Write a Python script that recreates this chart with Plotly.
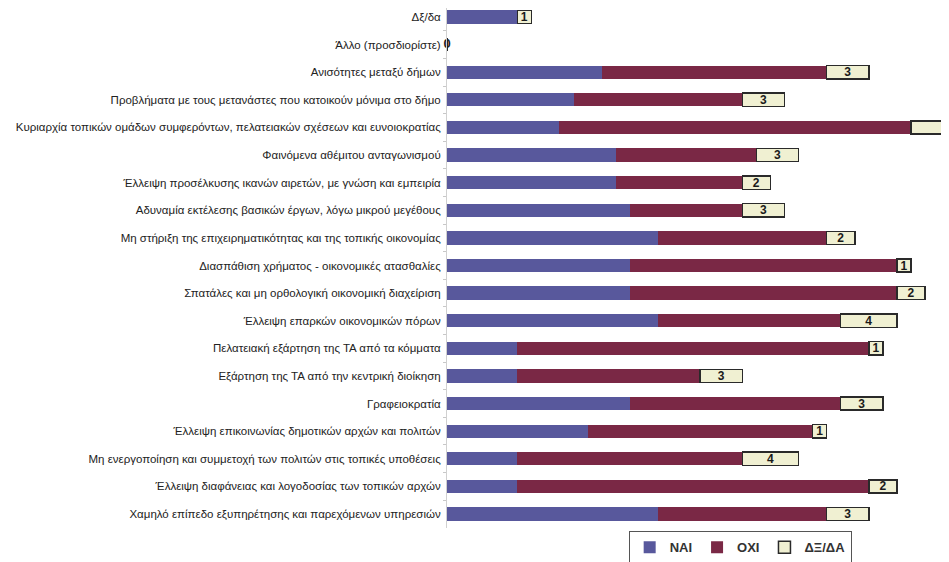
import plotly.graph_objects as go

categories = [
    "Δξ/δα",
    "Άλλο (προσδιορίστε)",
    "Ανισότητες μεταξύ δήμων",
    "Προβλήματα με τους μετανάστες που κατοικούν μόνιμα στο δήμο",
    "Κυριαρχία τοπικών ομάδων συμφερόντων, πελατειακών σχέσεων και ευνοιοκρατίας",
    "Φαινόμενα αθέμιτου ανταγωνισμού",
    "Έλλειψη προσέλκυσης ικανών αιρετών, με γνώση και εμπειρία",
    "Αδυναμία εκτέλεσης βασικών έργων, λόγω μικρού μεγέθους",
    "Μη στήριξη της επιχειρηματικότητας και της τοπικής οικονομίας",
    "Διασπάθιση χρήματος - οικονομικές ατασθαλίες",
    "Σπατάλες και μη ορθολογική οικονομική διαχείριση",
    "Έλλειψη επαρκών οικονομικών πόρων",
    "Πελατειακή εξάρτηση της ΤΑ από τα κόμματα",
    "Εξάρτηση της ΤΑ από την κεντρική διοίκηση",
    "Γραφειοκρατία",
    "Έλλειψη επικοινωνίας δημοτικών αρχών και πολιτών",
    "Μη ενεργοποίηση και συμμετοχή των πολιτών στις τοπικές υποθέσεις",
    "Έλλειψη διαφάνειας και λογοδοσίας των τοπικών αρχών",
    "Χαμηλό επίπεδο εξυπηρέτησης και παρεχόμενων υπηρεσιών",
]
nai = [5, 0, 11, 9, 8, 12, 12, 13, 15, 13, 13, 15, 5, 5, 13, 10, 5, 5, 15]
oxi = [0, 0, 16, 12, 25, 10, 9, 8, 12, 19, 19, 13, 25, 13, 15, 16, 16, 25, 12]
dxda = [1, 0, 3, 3, 3, 3, 2, 3, 2, 1, 2, 4, 1, 3, 3, 1, 4, 2, 3]

series_names = ["ΝΑΙ", "ΟΧΙ", "ΔΞ/ΔΑ"]
colors = ["#58589c", "#7a2845", "#f0f0d2"]

fig = go.Figure()
fig.add_trace(go.Bar(
    y=categories, x=nai, orientation="h", name=series_names[0],
    marker=dict(color=colors[0], line=dict(color=colors[0], width=0)),
))
fig.add_trace(go.Bar(
    y=categories, x=oxi, orientation="h", name=series_names[1],
    marker=dict(color=colors[1], line=dict(color=colors[1], width=0)),
))
fig.add_trace(go.Bar(
    y=categories, x=dxda, orientation="h", name=series_names[2],
    marker=dict(color=colors[2], line=dict(color="#2a2a2a", width=1.5)),
    text=[str(v) if v else "" for v in dxda], textposition="inside",
    insidetextanchor="middle", textangle=0, constraintext="none",
    textfont=dict(color="#1a1a1a", size=12, family="Liberation Sans", weight="bold"),
))
# zero label for the empty category
zero_cats = [c for c, a, b, d in zip(categories, nai, oxi, dxda) if a + b + d == 0]
fig.add_trace(go.Scatter(
    y=zero_cats, x=[0] * len(zero_cats), mode="text", text=["0"] * len(zero_cats),
    textposition="middle center", showlegend=False, cliponaxis=False,
    textfont=dict(color="#222222", size=13, family="Liberation Sans", weight="bold"),
))

fig.update_layout(
    barmode="stack",
    bargap=0.52,
    width=941, height=554,
    margin=dict(l=439, r=0, t=0, b=34, autoexpand=False),
    paper_bgcolor="white", plot_bgcolor="white",
    font=dict(family="Liberation Sans", color="#222222", size=11.5),
    legend=dict(
        orientation="h", x=0.584, y=-0.037, xanchor="center", yanchor="middle",
        bordercolor="#555555", borderwidth=1,
        font=dict(size=13, family="Liberation Sans", color="#333333", weight="bold"),
        traceorder="normal", itemwidth=30,
    ),
    xaxis=dict(range=[0, 35.7], showgrid=False, zeroline=False,
               showticklabels=False, ticks="", showline=False, automargin=False),
    yaxis=dict(categoryorder="array", categoryarray=categories,
               range=[18.507, -0.326], showgrid=False, zeroline=False,
               showline=True, linecolor="#d0d0d0", linewidth=1,
               ticks="outside", ticklen=3, tickcolor="#c8c8c8",
               tickson="boundaries", automargin=False, ticklabelstandoff=3,
               tickfont=dict(size=11.5, family="Liberation Sans", color="#222222")),
)

fig.write_html("out.html")
